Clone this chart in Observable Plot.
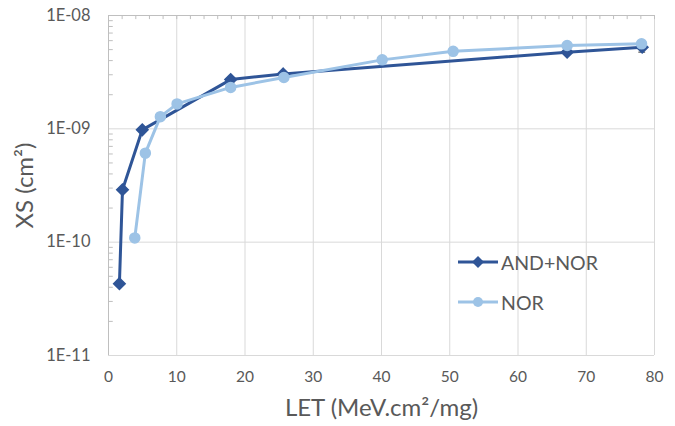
<!DOCTYPE html>
<html>
<head>
<meta charset="utf-8">
<script src="https://cdn.jsdelivr.net/npm/d3@7"></script>
<script src="https://cdn.jsdelivr.net/npm/@observablehq/plot@0.6"></script>
<style>
  body { margin: 0; background: #fff; }
  #wrap { position: relative; width: 675px; height: 426px; font-family: Lato, "Open Sans", sans-serif; }
  #legend { position: absolute; left: 458px; top: 0; }
  .lg { position: absolute; display: flex; align-items: center; white-space: nowrap; color: #595959; font-size: 19.5px; }
</style>
</head>
<body>
<div id="wrap">
  <div id="chart"></div>
  <div id="legend"></div>
</div>
<script>
// ---- Data ----
const andNorLET = [1.6, 2.05, 4.95, 17.9, 25.6, 67.2, 78.2];
const andNorXS  = [4.3e-11, 2.9e-10, 0.98e-9, 2.72e-9, 3.05e-9, 4.75e-9, 5.25e-9];
const norLET = [3.85, 5.4, 7.6, 10.05, 17.9, 25.7, 40.1, 50.5, 67.2, 78.1];
const norXS  = [1.09e-10, 6.1e-10, 1.28e-9, 1.66e-9, 2.32e-9, 2.84e-9, 4.06e-9, 4.83e-9, 5.43e-9, 5.62e-9];
// error bar on the last AND+NOR point
const errLET  = [78.2];
const errLow  = [4.75e-9];
const errHigh = [5.75e-9];

const xTicks = [0, 10, 20, 30, 40, 50, 60, 70, 80];
const yTicks = [1e-8, 1e-9, 1e-10, 1e-11];
const yTickLabels = ["1E-08", "1E-09", "1E-10", "1E-11"];
const xMinorTicks = d3.range(0, 81, 2);
const yMinorTicks = [];
[1e-11, 1e-10, 1e-9].forEach(dec => { for (let k = 2; k <= 9; k++) yMinorTicks.push(k * dec); });

const seriesNames = ["AND+NOR", "NOR"];
const colors = ["#2F5597", "#9DC3E6"];

const andNor = andNorLET.map((x, i) => ({x, y: andNorXS[i]}));
const nor = norLET.map((x, i) => ({x, y: norXS[i]}));
const errs = errLET.map((x, i) => ({x, lo: errLow[i], hi: errHigh[i]}));

const gridColor = "#d9d9d9";
const textColor = "#595959";

const chart = Plot.plot({
  width: 675,
  height: 426,
  marginLeft: 108,
  marginRight: 21,
  marginTop: 15,
  marginBottom: 71,
  style: { fontFamily: "Lato, 'Open Sans', sans-serif", color: textColor, background: "#fff" },
  x: { domain: [0, 80] },
  y: { type: "log", domain: [1e-11, 1e-8] },
  marks: [
    Plot.gridX(xTicks, { stroke: gridColor, strokeOpacity: 1 }),
    Plot.gridY(yTicks, { stroke: gridColor, strokeOpacity: 1 }),
    Plot.ruleX([0], { stroke: "#bfbfbf" }),
    Plot.ruleY([1e-8], { stroke: "#bfbfbf" }),
    Plot.ruleX(xMinorTicks, { y1: 1e-8, y2: 9.2e-9, stroke: "#bfbfbf" }),
    Plot.ruleY(yMinorTicks, { x1: 0, x2: 0.7, stroke: "#bfbfbf" }),
    Plot.axisX(xTicks, { tickSize: 0, tickPadding: 15, fontSize: 15.5, label: null, fill: textColor }),
    Plot.axisY(yTicks, { tickSize: 0, tickPadding: 18, fontSize: 16.5, label: null, fill: textColor,
      tickFormat: d => yTickLabels[yTicks.indexOf(d)] }),
    Plot.text(["XS (cm²)"], { frameAnchor: "left", textAnchor: "middle", lineAnchor: "middle", rotate: -90, dx: -83, fontSize: 24, fill: textColor }),
    Plot.text(["LET (MeV.cm²/mg)"], { frameAnchor: "bottom", textAnchor: "middle", lineAnchor: "middle", dy: 53, fontSize: 24, fill: textColor }),
    // AND+NOR series
    Plot.line(andNor, { x: "x", y: "y", stroke: colors[0], strokeWidth: 3 }),
    Plot.ruleX(errs, { x: "x", y1: "lo", y2: "hi", stroke: "#404040", strokeWidth: 1 }),
    Plot.ruleY(errs, { y: "lo", x1: d => d.x - 0.5, x2: d => d.x + 0.5, stroke: "#404040", strokeWidth: 1 }),
    Plot.dot(andNor, { x: "x", y: "y", symbol: "diamond2", r: 5.2, fill: colors[0], stroke: colors[0] }),
    // NOR series
    Plot.line(nor, { x: "x", y: "y", stroke: colors[1], strokeWidth: 3 }),
    Plot.dot(nor, { x: "x", y: "y", r: 5, fill: colors[1], stroke: colors[1] })
  ]
});
document.getElementById("chart").appendChild(chart);

// ---- Legend (inside plot area) ----
const legend = document.getElementById("legend");
const rowsTop = [262, 302];
seriesNames.forEach((name, i) => {
  const row = document.createElement("div");
  row.className = "lg";
  row.style.top = (rowsTop[i] - 12) + "px";
  row.style.height = "24px";
  const sym = i === 0
    ? `<path d="M20,6 L26,12 L20,18 L14,12 Z" fill="${colors[i]}"/>`
    : `<circle cx="20" cy="12" r="5" fill="${colors[i]}"/>`;
  row.innerHTML = `<svg width="40" height="24" style="display:block"><line x1="0" x2="40" y1="12" y2="12" stroke="${colors[i]}" stroke-width="3"/>${sym}</svg><span style="margin-left:3px">${name}</span>`;
  legend.appendChild(row);
});
</script>
</body>
</html>
